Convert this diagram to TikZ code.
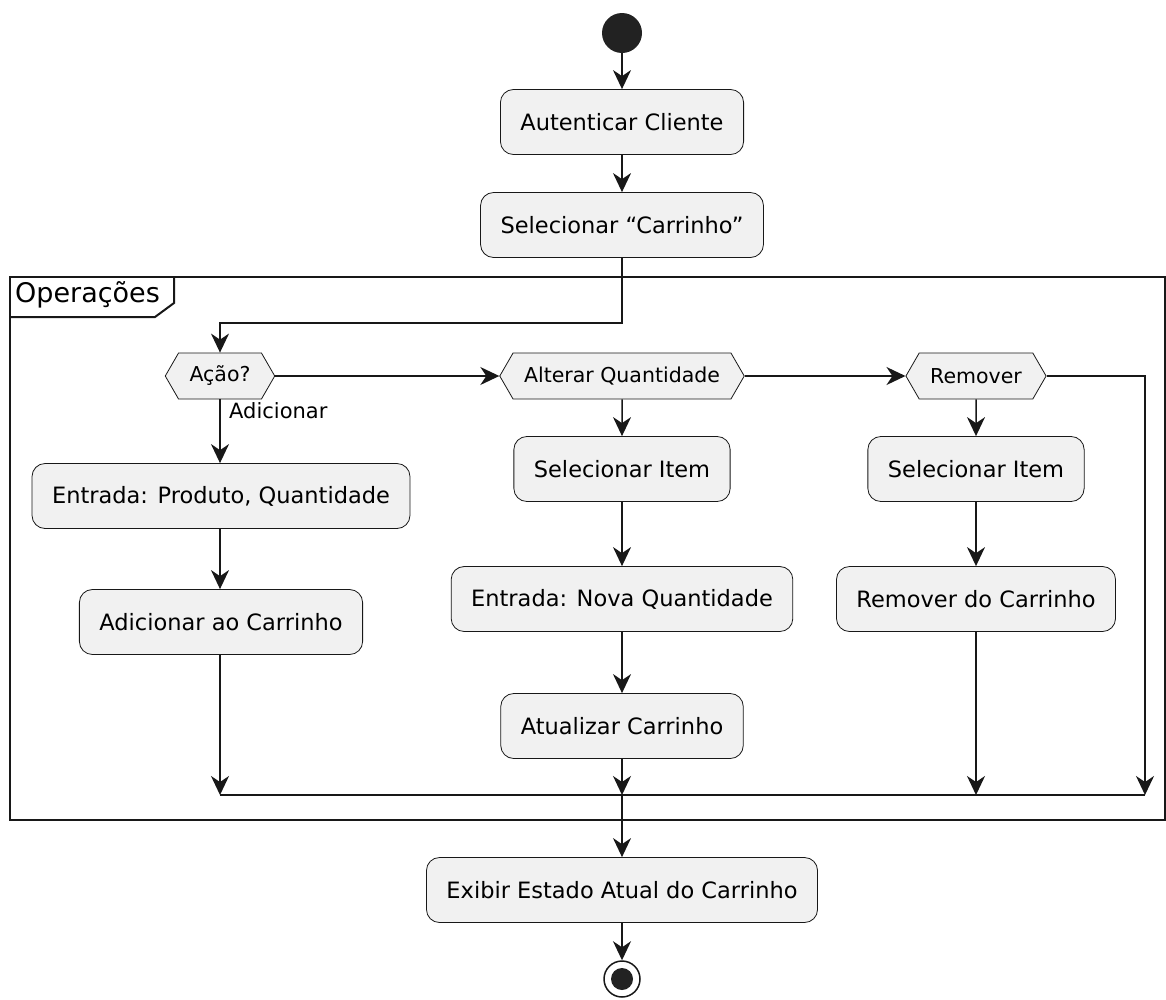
\documentclass[tikz,border=0pt]{standalone}
\usepackage{fontspec}
\setmainfont{DejaVu Sans}
\usetikzlibrary{arrows.meta,shapes.symbols}

\definecolor{linec}{HTML}{181818}
\definecolor{boxfill}{HTML}{F1F1F1}
\definecolor{dotc}{HTML}{222222}

\tikzset{
	activity/.style={draw=linec, line width=0.8pt, fill=boxfill, rounded corners=13pt,
		minimum height=65pt, inner xsep=20pt, font=\fontsize{22.5}{26}\selectfont},
	decision/.style={draw=linec, line width=0.8pt, fill=boxfill, shape=signal,
		signal to=west and east, signal pointer angle=120, minimum height=46pt,
		inner xsep=11pt, inner ysep=0pt, font=\fontsize{20.5}{24}\selectfont},
	flow/.style={draw=linec, line width=1.5pt, -{Stealth[length=19pt,width=18pt,inset=6pt]}},
	plain/.style={draw=linec, line width=1.5pt},
}

\begin{document}
\begin{tikzpicture}[x=1pt,y=-1pt]
	\useasboundingbox (0,0) rectangle (1166,999);

	% Start
	\node[circle, fill=dotc, minimum size=40pt, inner sep=0pt] (start) at (622,33) {};
	\node[activity] (auth) at (622,122) {Autenticar Cliente};
	\node[activity] (sel) at (622,225) {Selecionar “Carrinho”};

	% Rahmen Operacoes
	\draw[linec, line width=2pt] (10,277) rectangle (1165,820);
	\draw[linec, line width=2pt] (10,317) -- (155,317) -- (174,303) -- (174,277);
	\node[anchor=base west, font=\fontsize{27}{30}\selectfont, inner sep=0pt] (frametitle) at (15,302) {Operações};

	% Entscheidungen
	\node[decision] (acao) at (220,376) {Ação?};
	\node[decision] (alt) at (622,376) {Alterar Quantidade};
	\node[decision] (rem) at (976,376) {Remover};
	\node[anchor=west, font=\fontsize{21}{24}\selectfont, inner sep=0pt] (lbladd) at (229,411) {Adicionar};

	% Zweig Adicionar
	\node[activity] (entrada) at (221,496) {Entrada: Produto, Quantidade};
	\node[activity] (adic) at (221,622) {Adicionar ao Carrinho};

	% Zweig Alterar
	\node[activity] (selitemA) at (622,469) {Selecionar Item};
	\node[activity] (novaq) at (622,599) {Entrada: Nova Quantidade};
	\node[activity] (atual) at (622,726) {Atualizar Carrinho};

	% Zweig Remover
	\node[activity] (selitemB) at (976,469) {Selecionar Item};
	\node[activity] (remcar) at (976,599) {Remover do Carrinho};

	% Ende
	\node[activity] (exibir) at (622,890) {Exibir Estado Atual do Carrinho};
	\node[circle, draw=linec, line width=1.5pt, fill=white, minimum size=36pt, inner sep=0pt] (fim) at (622,979) {};
	\node[circle, fill=dotc, minimum size=22pt, inner sep=0pt] at (fim) {};

	% Hilfspunkte
	\coordinate (loopA) at (220,323);
	\coordinate (mergeL) at (220,795);
	\coordinate (mergeM) at (622,795);
	\coordinate (mergeR) at (976,795);
	\coordinate (rightR) at (1145,795);

	% Verbindungen
	\draw[flow] (start) -- (auth);
	\draw[flow] (auth) -- (sel);
	\draw[flow] (sel.south) |- (loopA) -- (acao.north);
	\draw[flow] (acao.east) -- (alt.west);
	\draw[flow] (alt.east) -- (rem.west);
	\draw[flow] (rem.east) -| (rightR);

	\draw[flow] (acao.south) -- (entrada.north -| acao.south);
	\draw[flow] (entrada.south -| acao.south) -- (adic.north -| acao.south);
	\draw[flow] (adic.south -| acao.south) -- (mergeL);

	\draw[flow] (alt) -- (selitemA);
	\draw[flow] (selitemA) -- (novaq);
	\draw[flow] (novaq) -- (atual);
	\draw[flow] (atual) -- (mergeM);

	\draw[flow] (rem) -- (selitemB);
	\draw[flow] (selitemB) -- (remcar);
	\draw[flow] (remcar) -- (mergeR);

	\draw[plain] (mergeL) -- (rightR);
	\draw[flow] (mergeM) -- (exibir);
	\draw[flow] (exibir) -- (fim);
\end{tikzpicture}
\end{document}
